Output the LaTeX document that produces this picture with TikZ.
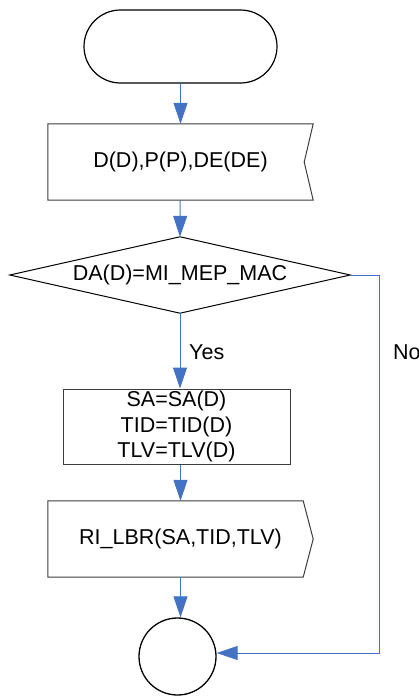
\documentclass[tikz,border=0pt]{standalone}
\usepackage{fontspec}
\setmainfont{Liberation Sans}
\usetikzlibrary{arrows.meta}
\definecolor{flowB}{RGB}{68,114,196}
\definecolor{edgeG}{RGB}{60,60,60}

\begin{document}
\begin{tikzpicture}[x=1pt,y=-1pt,>={Triangle[length=21pt,width=14pt]},
  every node/.style={font=\fontsize{21.5}{25.8}\selectfont,inner sep=0pt},
  flow/.style={->,draw=flowB,line width=1pt},
  outline/.style={draw=edgeG,line width=1pt,line join=miter}]
\useasboundingbox (0,0) rectangle (418,696);
% shapes
\node[draw=black,line width=1.2pt,rounded corners=36.5pt,minimum width=193pt,minimum height=73pt] (start) at (180.5,46.5) {};
\node[minimum width=265pt,minimum height=76pt] (inp) at (180.5,162) {D(D),P(P),DE(DE)};
\draw[outline] (inp.north west) -- (inp.north east) -- ([xshift=-9pt]inp.east) -- (inp.south east) -- (inp.south west) -- cycle;
\node[minimum width=340pt,minimum height=76pt] (dec) at (180,275) {DA(D)=MI\_MEP\_MAC};
\draw[draw=black,line width=1pt] (dec.west) -- (dec.north) -- (dec.east) -- (dec.south) -- cycle;
\node[outline,minimum width=227pt,minimum height=75pt,align=center] (proc) at (176.5,426.5) {SA=SA(D)\\TID=TID(D)\\TLV=TLV(D)};
\node[minimum width=265pt,minimum height=76pt] (out) at (180.5,539) {RI\_LBR(SA,TID,TLV)};
\draw[outline] (out.north west) -- ([xshift=-10pt]out.north east) -- (out.east) -- ([xshift=-10pt]out.south east) -- (out.south west) -- cycle;
\node[draw=black,line width=1.3pt,circle,minimum size=77pt] (end) at (177.5,656.5) {};
\coordinate (corner) at (379,653);
% connectors
\draw[flow] (start) -- (inp);
\draw[flow] (inp) -- (dec.north);
\draw[flow] (dec.south) -- (dec.south |- proc.north);
\draw[flow] (out.north |- proc.south) -- (out.north);
\draw[flow] (out.south) -- (out.south |- end.north);
\draw[flow] (dec.east) -| (corner) -- (corner -| end.east);
\node[anchor=west] (yes) at (189,352) {Yes};
\node[anchor=west] (no) at (393,352) {No};
\end{tikzpicture}
\end{document}
